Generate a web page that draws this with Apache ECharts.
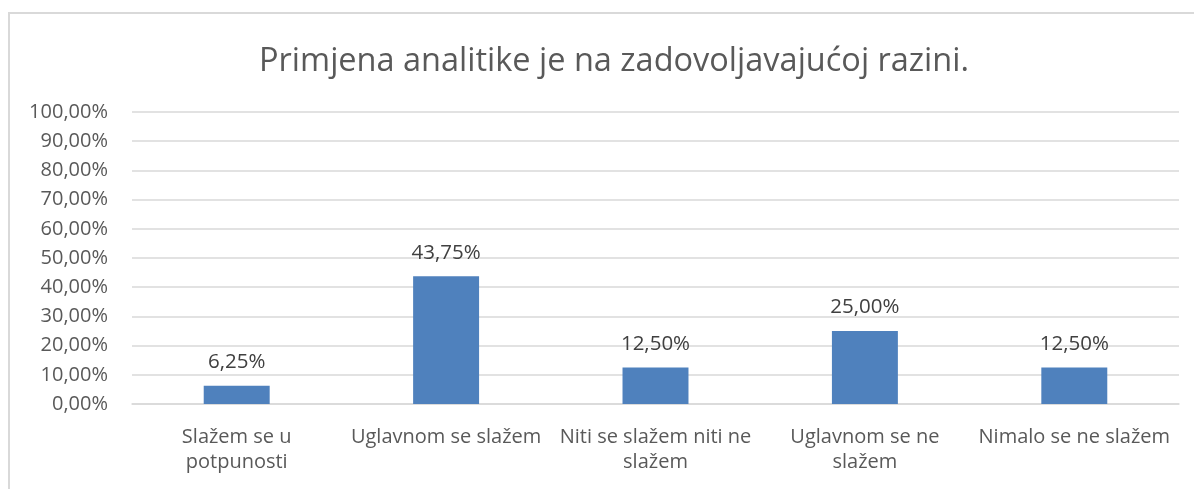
<!DOCTYPE html>
<html>
<head>
<meta charset="utf-8">
<script src="https://cdn.jsdelivr.net/npm/echarts@6/dist/echarts.min.js"></script>
<style>
  html, body { margin: 0; padding: 0; background: #fff; }
  #frame {
    position: absolute; left: 8px; top: 12px;
    width: 1200px; height: 500px;
    border: 2px solid #d9d9d9; box-sizing: border-box;
  }
  #chart { position: absolute; left: 0; top: 0; width: 1194px; height: 489px; }
</style>
</head>
<body>
<div id="frame"></div>
<div id="chart"></div>
<script>
// podaci s grafa
var categories = [
  "Slažem se u\npotpunosti",
  "Uglavnom se slažem",
  "Niti se slažem niti ne\nslažem",
  "Uglavnom se ne\nslažem",
  "Nimalo se ne slažem"
];
var values = [6.25, 43.75, 12.5, 25, 12.5];
var title = "Primjena analitike je na zadovoljavajućoj razini.";

function pct(v) {
  return v.toFixed(2).replace(".", ",") + "%";
}

var chart = echarts.init(document.getElementById("chart"));
chart.setOption({
  animation: false,
  textStyle: { fontFamily: "Open Sans" },
  title: {
    text: title,
    left: 254,
    top: 40,
    textStyle: { fontSize: 32.5, fontWeight: "normal", color: "#595959", fontFamily: "Open Sans" }
  },
  grid: { left: 132, right: 15, top: 112, bottom: 85 },
  xAxis: {
    type: "category",
    data: categories,
    axisLine: { show: true, lineStyle: { color: "#d9d9d9", width: 1.5 } },
    axisTick: { show: false },
    axisLabel: {
      color: "#595959",
      fontSize: 20,
      lineHeight: 25,
      margin: 21,
      interval: 0
    }
  },
  yAxis: {
    type: "value",
    min: 0,
    max: 100,
    interval: 10,
    axisLine: { show: false },
    axisTick: { show: false },
    splitLine: { lineStyle: { color: "#d9d9d9", width: 1.5 } },
    axisLabel: {
      color: "#595959",
      fontSize: 20,
      margin: 24,
      formatter: function (v) { return pct(v); }
    }
  },
  series: [{
    type: "bar",
    data: values,
    barWidth: "31.5%",
    itemStyle: { color: "#4f81bd" },
    label: {
      show: true,
      position: "top",
      distance: 13,
      color: "#404040",
      fontSize: 20.5,
      formatter: function (p) { return pct(p.value); }
    }
  }]
});
</script>
</body>
</html>
